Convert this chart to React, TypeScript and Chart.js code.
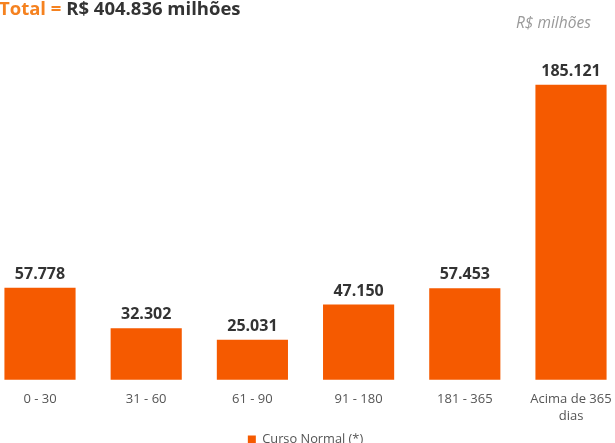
import React, { useEffect, useRef } from "react";
import { Chart, registerables } from "chart.js";

Chart.register(...registerables);

const categories: (string | string[])[] = ["0 - 30", "31 - 60", "61 - 90", "91 - 180", "181 - 365", ["Acima de 365", "dias"]];
const values: number[] = [57.778, 32.302, 25.031, 47.15, 57.453, 185.121];
const valueLabels: string[] = ["57.778", "32.302", "25.031", "47.150", "57.453", "185.121"];
const seriesName = "Curso Normal (*)";
const barColor = "#F55A00";

const valueLabelPlugin = {
  id: "valueLabels",
  afterDatasetsDraw(chart: any) {
    const ctx = chart.ctx;
    const meta = chart.getDatasetMeta(0);
    ctx.save();
    ctx.font = "bold 16px 'Open Sans'";
    ctx.fillStyle = "#333333";
    ctx.textAlign = "center";
    ctx.textBaseline = "alphabetic";
    meta.data.forEach((bar: any, i: number) => {
      ctx.fillText(valueLabels[i], bar.x, bar.y - 9);
    });
    ctx.restore();
  },
};

export default function App() {
  const ref = useRef<HTMLCanvasElement | null>(null);
  useEffect(() => {
    if (!ref.current) return;
    const chart = new Chart(ref.current, {
      type: "bar",
      data: {
        labels: categories,
        datasets: [
          {
            label: seriesName,
            data: values,
            backgroundColor: barColor,
            borderWidth: 0,
            barPercentage: 0.67,
            categoryPercentage: 1,
            clip: false,
          } as any,
        ],
      },
      options: {
        animation: false,
        responsive: false,
        maintainAspectRatio: false,
        layout: { padding: { left: 40, right: 44, top: 61, bottom: -13 } },
        scales: {
          x: {
            offset: false,
            grid: { display: false, drawTicks: false },
            border: { display: false },
            ticks: {
              color: "#555555",
              font: { family: "'Open Sans'", size: 13, lineHeight: 1.3 },
              maxRotation: 0,
              autoSkip: false,
              padding: 11,
            },
            afterFit: (s: any) => {
              s.height = 53.5;
              s.paddingLeft = 0;
              s.paddingRight = 0;
            },
          },
          y: {
            display: false,
            min: 0,
            max: 200,
          },
        },
        plugins: {
          legend: {
            position: "bottom",
            labels: {
              boxWidth: 8,
              boxHeight: 8,
              color: "#555555",
              font: { family: "'Open Sans'", size: 12.8 },
              padding: 0,
            },
          },
          tooltip: { enabled: false },
        },
      },
      plugins: [valueLabelPlugin],
    });
    return () => chart.destroy();
  }, []);

  return (
    <div style={{ position: "absolute", left: 0, top: 0, width: 615, height: 443, background: "#fff", overflow: "hidden" }}>
      <canvas ref={ref} width={615} height={443} style={{ position: "absolute", left: 0, top: 0 }} />
      <div
        style={{
          position: "absolute",
          left: -1,
          top: -5,
          fontFamily: "'Open Sans'",
          fontWeight: "bold",
          fontSize: 18.5,
          color: "#333333",
          whiteSpace: "nowrap",
        }}
      >
        <span style={{ color: "#F58220" }}>Total = </span>R$ 404.836 milhões
      </div>
      <div
        style={{
          position: "absolute",
          left: 516,
          top: 11,
          fontFamily: "'Open Sans'",
          fontStyle: "italic",
          fontSize: 15.5,
          color: "#999999",
          whiteSpace: "nowrap",
        }}
      >
        R$ milhões
      </div>
    </div>
  );
}
